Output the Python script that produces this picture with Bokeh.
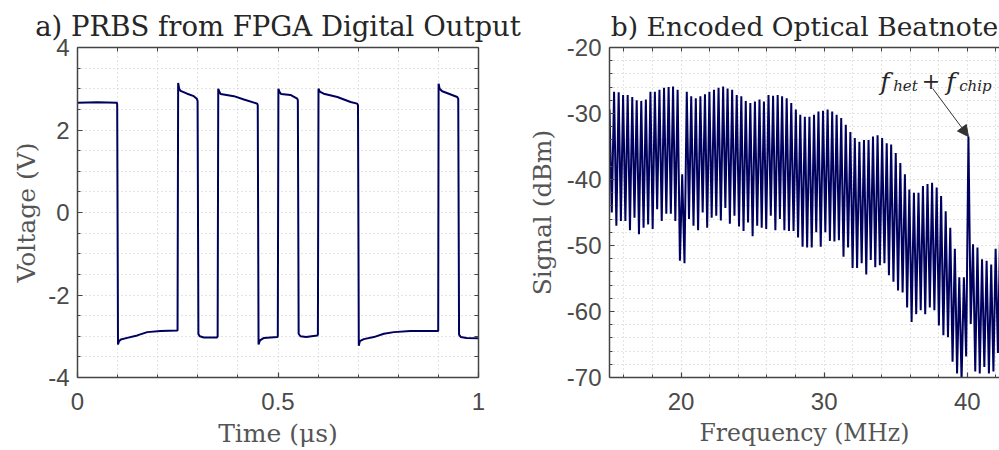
from bokeh.plotting import figure
from bokeh.models import FixedTicker, LinearAxis, Range1d, Label, Arrow, NormalHead
from bokeh.layouts import row
from bokeh.embed import file_html
from bokeh.resources import INLINE

# ---------------- Panel a: PRBS time trace ----------------
time_us = [0.0, 0.05, 0.0985,
           0.0990, 0.1010, 0.1035, 0.108, 0.124, 0.149, 0.174, 0.207, 0.2495,
           0.2510, 0.2535, 0.257, 0.2735, 0.290, 0.2975,
           0.2995, 0.3015, 0.305, 0.315, 0.348,
           0.3495, 0.3510, 0.354, 0.357, 0.390, 0.415, 0.448,
           0.4495, 0.4515, 0.455, 0.465, 0.498,
           0.4995, 0.5010, 0.504, 0.508, 0.531, 0.548,
           0.5495, 0.5515, 0.556, 0.570, 0.598,
           0.5995, 0.6010, 0.604, 0.614, 0.648, 0.681, 0.6975,
           0.6995, 0.7015, 0.704, 0.714, 0.739, 0.764, 0.789, 0.830, 0.8995,
           0.9005, 0.903, 0.9095, 0.926, 0.947,
           0.9495, 0.9515, 0.956, 0.970, 1.0]
voltage = [2.66, 2.67, 2.66,
           2.60, -3.20, -3.12, -3.08, -3.04, -2.98, -2.90, -2.87, -2.86,
           3.14, 3.00, 2.95, 2.88, 2.82, 2.76,
           2.70, -2.95, -3.00, -3.03, -3.03,
           -3.00, 3.00, 2.92, 2.87, 2.82, 2.74, 2.64,
           2.60, -3.20, -3.10, -3.04, -3.02,
           -3.00, 3.00, 2.92, 2.87, 2.85, 2.76,
           2.72, -2.94, -3.00, -3.02, -2.98,
           -2.96, 3.00, 2.93, 2.88, 2.80, 2.68, 2.64,
           2.60, -3.23, -3.12, -3.07, -3.02, -2.94, -2.90, -2.87, -2.87,
           3.12, 3.00, 2.94, 2.88, 2.80,
           2.76, -2.96, -3.02, -3.04, -3.05]

a_xticks = [0, 0.5, 1]
a_xtick_labels = ["0", "0.5", "1"]
a_yticks = [-4, -2, 0, 2, 4]
a_ytick_labels = ["-4", "-2", "0", "2", "4"]
a_xminor = [0.1, 0.2, 0.3, 0.4, 0.6, 0.7, 0.8, 0.9]
a_yminor = [-3.5, -3, -2.5, -1.5, -1, -0.5, 0.5, 1, 1.5, 2.5, 3, 3.5]

# ---------------- Panel b: beatnote spectrum ----------------
line_freq = [15.00, 15.32, 15.64, 15.95, 16.27, 16.59, 16.90, 17.22, 17.54, 17.86,
             18.17, 18.49, 18.81, 19.13, 19.44, 19.76, 20.08, 20.40, 20.71, 21.03,
             21.35, 21.67, 21.98, 22.30, 22.62, 22.94, 23.25, 23.57, 23.89, 24.21,
             24.52, 24.84, 25.16, 25.48, 25.79, 26.11, 26.43, 26.75, 27.06, 27.38,
             27.70, 28.02, 28.33, 28.65, 28.97, 29.29, 29.60, 29.92, 30.24, 30.56,
             30.87, 31.19, 31.51, 31.83, 32.14, 32.46, 32.78, 33.10, 33.41, 33.73,
             34.05, 34.37, 34.68, 35.00, 35.32, 35.64, 35.95, 36.27, 36.59, 36.90,
             37.22, 37.54, 37.86, 38.17, 38.49, 38.81, 39.13, 39.44, 39.76, 40.08,
             40.40, 40.71, 41.03, 41.35, 41.67, 41.98, 42.30]
peak_dbm = [-29.4, -26.7, -26.8, -27.2, -27.2, -27.5, -28.0, -28.1, -27.9, -26.7,
            -26.7, -26.4, -26.1, -26.0, -25.9, -26.4, -39.2, -26.7, -27.4, -27.7,
            -27.4, -27.1, -26.7, -26.4, -26.1, -25.9, -26.2, -26.4, -27.2, -27.4,
            -28.1, -28.4, -28.2, -27.9, -28.2, -27.2, -27.3, -27.2, -27.4, -27.7,
            -28.4, -29.4, -30.2, -30.5, -30.5, -30.2, -29.7, -29.6, -29.4, -29.7,
            -30.2, -30.7, -31.7, -32.8, -33.7, -34.3, -34.0, -34.0, -33.5, -33.3,
            -33.7, -34.5, -34.7, -36.0, -37.5, -39.2, -41.5, -42.0, -42.0, -41.0,
            -40.7, -40.5, -41.2, -42.5, -44.8, -47.3, -50.5, -54.8, -54.8, -33.5,
            -49.8, -50.3, -52.1, -52.3, -52.9, -50.5, -47.3]
valley_dbm = [-45.0, -47.0, -46.3, -46.3, -47.7, -45.8, -48.3, -47.3, -46.8, -47.5,
              -44.5, -46.3, -45.2, -45.2, -46.3, -52.3, -52.7, -46.0, -47.0, -47.7,
              -45.0, -47.3, -45.8, -45.5, -46.2, -44.3, -46.7, -45.5, -47.1, -47.8,
              -46.5, -48.6, -47.0, -47.3, -47.5, -45.5, -47.7, -46.0, -47.7, -47.8,
              -47.8, -48.8, -50.2, -50.3, -50.3, -48.0, -50.2, -48.0, -49.3, -49.4,
              -49.2, -51.7, -50.3, -53.4, -53.4, -52.7, -54.4, -52.2, -53.3, -53.0,
              -52.7, -54.5, -55.5, -56.8, -57.1, -59.4, -61.6, -60.4, -59.8, -60.4,
              -59.4, -59.8, -62.1, -63.6, -63.9, -67.6, -69.4, -70.5, -66.8, -61.9,
              -69.1, -69.4, -68.4, -69.4, -69.1, -66.3]
spike_index = 79  # the f_het + f_chip line at 40.08 MHz

b_xticks = [20, 30, 40]
b_xtick_labels = ["20", "30", "40"]
b_yticks = [-70, -60, -50, -40, -30, -20]
b_ytick_labels = ["-70", "-60", "-50", "-40", "-30", "-20"]
b_xminor = [16, 18, 22, 24, 26, 28, 32, 34, 36, 38, 42]
b_yminor = [-68, -66, -64, -62, -58, -56, -54, -52, -48, -46, -44, -42,
            -38, -36, -34, -32, -28, -26, -24, -22]

# spectrum trace: peak on each comb line, valley between neighbours
spec_f, spec_db = [], []
for i, f in enumerate(line_freq):
    spec_f.append(f)
    spec_db.append(peak_dbm[i])
    if i < len(valley_dbm):
        spec_f.append((f + line_freq[i + 1]) / 2.0)
        spec_db.append(valley_dbm[i])

# ---------------- styling ----------------
TICK_FONT = "Liberation Sans"
SERIF = "DejaVu Serif"
AXC = "#444444"
TXT = "#4a4a4a"
LINE = "#00005e"
GRIDC = "#c8c8c8"


def base_axis(ax):
    ax.axis_line_color = AXC
    ax.axis_line_width = 1.5
    ax.major_tick_line_color = AXC
    ax.minor_tick_line_color = AXC
    ax.major_tick_line_width = 1.2
    ax.minor_tick_line_width = 1.0
    ax.major_tick_out = 0
    ax.minor_tick_out = 0


def style_main_axis(ax, ticks, minor, labels, label_size, label_standoff, tick_standoff):
    ax.ticker = FixedTicker(ticks=ticks, minor_ticks=minor)
    base_axis(ax)
    ax.major_tick_in = 5
    ax.minor_tick_in = 3
    ax.major_label_overrides = {t: s for t, s in zip(ticks, labels)}
    ax.major_label_text_font = TICK_FONT
    ax.major_label_text_font_size = "24px"
    ax.major_label_text_color = TXT
    ax.major_label_standoff = tick_standoff
    ax.axis_label_text_font = SERIF
    ax.axis_label_text_font_style = "normal"
    ax.axis_label_text_font_size = label_size
    ax.axis_label_text_color = "#555555"
    ax.axis_label_standoff = label_standoff


def mirror_axis(ticks, minor):
    ax = LinearAxis(ticker=FixedTicker(ticks=[], minor_ticks=sorted(list(ticks) + list(minor))))
    base_axis(ax)
    ax.minor_tick_in = 4
    ax.major_tick_in = 0
    return ax


def make_panel(width, bl, br, xr, yr, xt, xm, xl, yt, ym, yl,
               xlabel, ylabel, xls, yls, ylab_standoff, title, title_size, right_axis):
    p = figure(width=width, height=450, x_range=Range1d(*xr), y_range=Range1d(*yr),
               output_backend="svg", toolbar_location=None,
               min_border_left=bl, min_border_right=br,
               min_border_top=47, min_border_bottom=71)
    p.outline_line_color = None
    p.background_fill_color = "white"
    p.border_fill_color = "white"
    p.xaxis.axis_label = xlabel
    p.yaxis.axis_label = ylabel
    style_main_axis(p.xaxis[0], xt, xm, xl, xls, 6, 15)
    style_main_axis(p.yaxis[0], yt, ym, yl, yls, ylab_standoff, 8)
    p.add_layout(mirror_axis(xt, xm), "above")
    if right_axis:
        p.add_layout(mirror_axis(yt, ym), "right")
    p.xgrid[0].ticker = p.xaxis[0].ticker
    p.ygrid[0].ticker = p.yaxis[0].ticker
    for g in (p.xgrid[0], p.ygrid[0]):
        g.grid_line_color = GRIDC
        g.grid_line_dash = "1 3"
        g.grid_line_width = 1
        g.minor_grid_line_color = GRIDC
        g.minor_grid_line_dash = "1 3"
        g.minor_grid_line_width = 1
    p.title.text = title
    p.title.align = "center"
    p.title.text_font = SERIF
    p.title.text_font_size = title_size
    p.title.text_font_style = "normal"
    p.title.text_color = "#262626"
    p.title.standoff = 11
    return p


pa = make_panel(524, 77, 46, (0, 1), (-4, 4),
                a_xticks, a_xminor, a_xtick_labels,
                a_yticks, a_yminor, a_ytick_labels,
                "Time (\u03bcs)", "Voltage (V)", "25px", "25px", 4,
                "a) PRBS from FPGA Digital Output", "27.5px", True)
pa.line(time_us, voltage, line_color=LINE, line_width=2)

pb = make_panel(475, 79, 0, (15, 42.25), (-70, -20),
                b_xticks, b_xminor, b_xtick_labels,
                b_yticks, b_yminor, b_ytick_labels,
                "Frequency (MHz)", "Signal (dBm)", "23.5px", "25px", 7,
                "b) Encoded Optical Beatnote", "26.5px", False)
pb.line(spec_f, spec_db, line_color=LINE, line_width=2)

# annotation for the f_het + f_chip line
sx, sy = line_freq[spike_index], peak_dbm[spike_index]
pb.add_layout(Arrow(end=NormalHead(size=11, fill_color="#333333", line_color="#333333"),
                    x_start=sx - 2.5, y_start=sy + 7.3, x_end=sx, y_end=sy,
                    line_color="#333333", line_width=1))
ann = [("f", 33.92, -25.1, "25px", "italic"),
       ("het", 34.82, -25.8, "15px", "italic"),
       ("+", 36.81, -25.1, "22px", "normal"),
       ("f", 38.53, -25.1, "25px", "italic"),
       ("chip", 39.43, -25.8, "15px", "italic")]
for t, x, y, s, st in ann:
    pb.add_layout(Label(x=x, y=y, text=t, text_align="left", text_baseline="alphabetic",
                        text_font=SERIF, text_font_size=s, text_font_style=st,
                        text_color="#262626"))

layout = row(pa, pb)
open("out.html", "w").write(file_html(layout, INLINE))
